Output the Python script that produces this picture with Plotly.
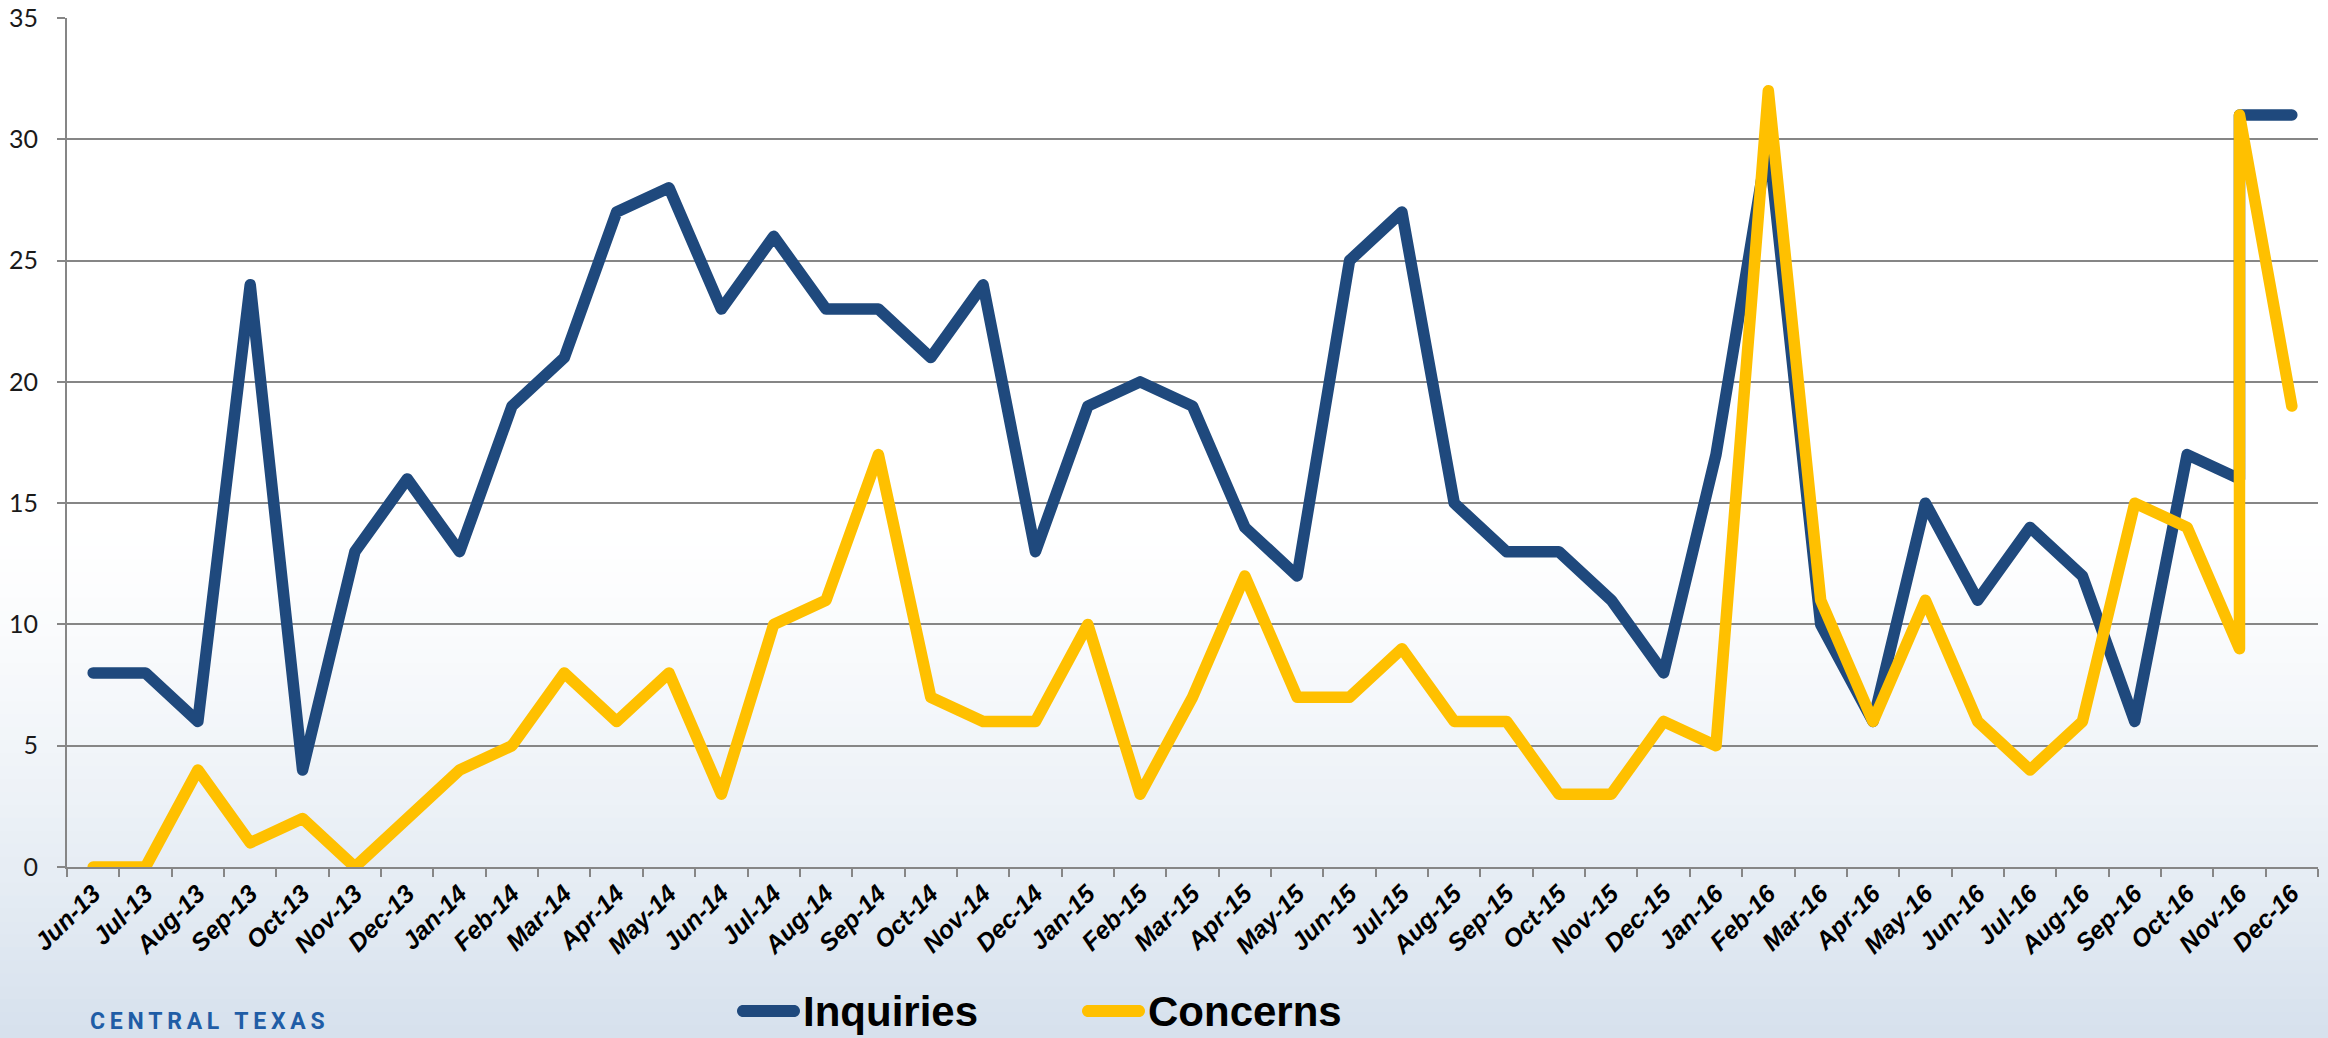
import plotly.graph_objects as go

months = ["Jun-13", "Jul-13", "Aug-13", "Sep-13", "Oct-13", "Nov-13", "Dec-13",
          "Jan-14", "Feb-14", "Mar-14", "Apr-14", "May-14", "Jun-14", "Jul-14",
          "Aug-14", "Sep-14", "Oct-14", "Nov-14", "Dec-14",
          "Jan-15", "Feb-15", "Mar-15", "Apr-15", "May-15", "Jun-15", "Jul-15",
          "Aug-15", "Sep-15", "Oct-15", "Nov-15", "Dec-15",
          "Jan-16", "Feb-16", "Mar-16", "Apr-16", "May-16", "Jun-16", "Jul-16",
          "Aug-16", "Sep-16", "Oct-16", "Nov-16", "Dec-16"]

# Points as plotted (Nov-16 carries two readings, drawn as a vertical jump)
point_months = ["Jun-13", "Jul-13", "Aug-13", "Sep-13", "Oct-13", "Nov-13", "Dec-13",
                "Jan-14", "Feb-14", "Mar-14", "Apr-14", "May-14", "Jun-14", "Jul-14",
                "Aug-14", "Sep-14", "Oct-14", "Nov-14", "Dec-14",
                "Jan-15", "Feb-15", "Mar-15", "Apr-15", "May-15", "Jun-15", "Jul-15",
                "Aug-15", "Sep-15", "Oct-15", "Nov-15", "Dec-15",
                "Jan-16", "Feb-16", "Mar-16", "Apr-16", "May-16", "Jun-16", "Jul-16",
                "Aug-16", "Sep-16", "Oct-16", "Nov-16", "Nov-16", "Dec-16"]

inquiries = [8, 8, 6, 24, 4, 13, 16,
             13, 19, 21, 27, 28, 23, 26, 23, 23, 21, 24, 13,
             19, 20, 19, 14, 12, 25, 27, 15, 13, 13, 11, 8,
             17, 30, 10, 6, 15, 11, 14, 12, 6, 17, 16, 31, 31]

concerns = [0, 0, 4, 1, 2, 0, 2,
            4, 5, 8, 6, 8, 3, 10, 11, 17, 7, 6, 6,
            10, 3, 7, 12, 7, 7, 9, 6, 6, 3, 3, 6,
            5, 32, 11, 6, 11, 6, 4, 6, 15, 14, 9, 31, 19]

y_ticks = [0, 5, 10, 15, 20, 25, 30, 35]

series_names = ["Inquiries", "Concerns"]
series_colors = ["#1F497D", "#FFC000"]

W, H = 2328, 1038
ML, MR, MT, MB = 67, 10, 18, 171
PW = W - ML - MR
PH = H - MT - MB


def px(X):
    return (X - ML) / PW


def py(Y):
    return (H - MB - Y) / PH


fig = go.Figure()
for name, vals, col in zip(series_names, [inquiries, concerns], series_colors):
    fig.add_trace(go.Scatter(
        x=point_months, y=vals, name=name, mode="lines",
        line=dict(color=col, width=11.5),
        showlegend=False,
    ))

shapes = []
# background gradient
top_c = (255, 255, 255)
bot_c = (214, 225, 237)
y_start, y_end = 520, H
n = 40
for i in range(n):
    a = y_start + (y_end - y_start) * i / n
    b = y_start + (y_end - y_start) * (i + 1) / n
    t = ((i + 0.5) / n) ** 1.3
    c = tuple(round(top_c[k] + (bot_c[k] - top_c[k]) * t) for k in range(3))
    shapes.append(dict(type="rect", xref="paper", yref="paper",
                       x0=px(0), x1=px(W), y0=py(b + 1), y1=py(a),
                       fillcolor="rgb(%d,%d,%d)" % c, line=dict(width=0),
                       layer="below"))


def capsule(X0, X1, Yc, r):
    k = 0.5523 * r
    pts = [
        ("M", [(X0 + r, Yc - r)]),
        ("L", [(X1 - r, Yc - r)]),
        ("C", [(X1 - r + k, Yc - r), (X1, Yc - k), (X1, Yc)]),
        ("C", [(X1, Yc + k), (X1 - r + k, Yc + r), (X1 - r, Yc + r)]),
        ("L", [(X0 + r, Yc + r)]),
        ("C", [(X0 + r - k, Yc + r), (X0, Yc + k), (X0, Yc)]),
        ("C", [(X0, Yc - k), (X0 + r - k, Yc - r), (X0 + r, Yc - r)]),
    ]
    s = ""
    for cmd, ps in pts:
        s += cmd + " ".join("%.6f,%.6f" % (px(x), py(y)) for x, y in ps) + " "
    return s + "Z"


legend_pos = [(737, 800), (1082, 1145)]
LEG_Y = 1011
annotations = []
for (x0, x1), name, col in zip(legend_pos, series_names, series_colors):
    shapes.append(dict(type="path", xref="paper", yref="paper",
                       path=capsule(x0, x1, LEG_Y, 6), fillcolor=col,
                       line=dict(width=0), layer="above"))
    annotations.append(dict(xref="paper", yref="paper", x=px(x1 + 1), y=py(LEG_Y + 1),
                            xanchor="left", yanchor="middle", showarrow=False,
                            text="<b>%s</b>" % name,
                            font=dict(family="Liberation Sans, Arial, sans-serif",
                                      size=42, color="#000000")))

annotations.append(dict(xref="paper", yref="paper", x=px(88), y=py(1037),
                        xanchor="left", yanchor="bottom", showarrow=False,
                        text="<b>" + "\u2009".join("CENTRAL TEXAS") + "</b>",
                        font=dict(family="Roboto, sans-serif", size=23,
                                  color="#1F5DA6")))

fig.update_layout(
    width=W, height=H,
    margin=dict(l=ML, r=MR, t=MT, b=MB, pad=0, autoexpand=False),
    paper_bgcolor="#FFFFFF",
    plot_bgcolor="rgba(0,0,0,0)",
    showlegend=False,
    shapes=shapes,
    annotations=annotations,
    xaxis=dict(
        type="category", categoryorder="array", categoryarray=months,
        range=[-0.5, len(months) - 0.5], automargin=False,
        showgrid=False, showline=True, linecolor="#868686", linewidth=2,
        ticks="outside", tickson="boundaries", ticklen=8, tickwidth=2,
        tickcolor="#868686", tickangle=-45,
        tickfont=dict(family="Liberation Sans, Arial, sans-serif", size=25,
                      color="#000000", weight="bold", style="italic"),
        zeroline=False, fixedrange=True,
    ),
    yaxis=dict(
        range=[0, 35], tickvals=y_ticks, ticktext=[str(v) for v in y_ticks],
        automargin=False,
        showgrid=True, gridcolor="#868686", gridwidth=2,
        showline=True, linecolor="#868686", linewidth=2,
        ticks="outside", ticklen=8, tickwidth=2, tickcolor="#868686",
        ticklabelstandoff=14,
        tickfont=dict(family="Lato, Open Sans, sans-serif", size=25, color="#1A1A1A"),
        zeroline=False, fixedrange=True,
    ),
)

post = """
document.body.style.margin = '0';
document.body.style.overflow = 'hidden';
var gd = document.getElementById('{plot_id}');
function rnd(){
  gd.querySelectorAll('.scatterlayer .js-line').forEach(function(p){
    p.style.strokeLinejoin='round'; p.style.strokeLinecap='round';
  });
}
rnd();
gd.on('plotly_afterplot', rnd);
"""

fig.write_html("out.html", post_script=post, config={"displayModeBar": False})
